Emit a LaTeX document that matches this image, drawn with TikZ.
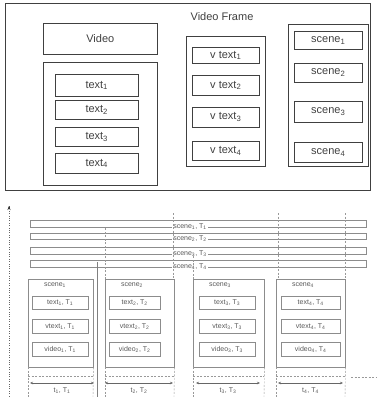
\documentclass[tikz,border=0pt]{standalone}
\usepackage{fontspec}
\setmainfont{Liberation Sans}
\usetikzlibrary{arrows.meta}
\tikzset{
  upper/.style={draw=black!75, line width=0.55pt, inner sep=0pt,
    font=\fontsize{11}{13}\selectfont, text=black!75},
  lower/.style={draw=black!45, line width=0.45pt, inner sep=0pt,
    font=\fontsize{7}{8}\selectfont, text=black!65},
  corners/.style args={#1/#2/#3/#4}{anchor=north west, at={(#1,#2)},
    minimum width={(#3-#1)*1pt}, minimum height={(#4-#2)*1pt}},
  guide/.style={draw=black!40, line width=0.4pt, dash pattern=on 2pt off 1.5pt},
  rail/.style={draw=black!50, line width=0.45pt},
  dur/.style={draw=black!60, line width=0.45pt, {Stealth[length=3pt,width=2.5pt]}-{Stealth[length=3pt,width=2.5pt]}},
}
\begin{document}
\begin{tikzpicture}[x=1pt, y=-1pt]
\useasboundingbox (0,0) rectangle (376,397);

% ---------- video frame ----------
\node[upper, corners=5/3/370/190] (frame) {};
\node[upper, draw=none] (title) at (222,17) {Video Frame};
\node[upper, corners=43/23/157/54] (video) {Video};

\node[upper, corners=43/62/157/185] (tgrp) {};
\node[upper, corners=55/74/138/96]   (text1) {text\textsubscript{1}};
\node[upper, corners=55/100/138/119] (text2) {text\textsubscript{2}};
\node[upper, corners=55/127/138/146] (text3) {text\textsubscript{3}};
\node[upper, corners=55/153/138/173] (text4) {text\textsubscript{4}};

\node[upper, corners=186/36/265/166] (vgrp) {};
\node[upper, corners=192/47/259/63]   (vtext1) {v text\textsubscript{1}};
\node[upper, corners=192/75/259/95]   (vtext2) {v text\textsubscript{2}};
\node[upper, corners=192/107/259/127] (vtext3) {v text\textsubscript{3}};
\node[upper, corners=192/141/259/160] (vtext4) {v text\textsubscript{4}};

\node[upper, corners=288/24/368/166] (sgrp) {};
\node[upper, corners=294/31/362/49]   (scene1) {scene\textsubscript{1}};
\node[upper, corners=294/63/362/82]   (scene2) {scene\textsubscript{2}};
\node[upper, corners=294/101/362/122] (scene3) {scene\textsubscript{3}};
\node[upper, corners=294/142/362/162] (scene4) {scene\textsubscript{4}};

% ---------- timeline ----------
\coordinate (axtop) at (9,206);
\coordinate (axbot) at (9,396);
\draw[draw=black!60, line width=0.4pt, dotted] (axbot) -- (axtop);
\draw[draw=black!80, -{Stealth[length=4pt,width=3pt]}] ([yshift=-1pt]axtop) -- (axtop);

% scene rows spanning the whole time axis
\foreach \i/\t/\b in {1/220/227, 2/233/239, 3/247/254, 4/260/267} {
  \node[lower, corners=30/\t/366/\b] (row\i) {};
  \node[lower, draw=none, fill=white, inner sep=0.8pt] (rowlab\i) at (190,\b)
    {scene\textsubscript{\i}, T\textsubscript{\i}};
}

% segment columns
\foreach \i/\l/\r/\il/\ir in {1/28/93/32/88, 2/105/174/109/160, 3/193/264/199/255, 4/276/345/281/340} {
  \node[lower, corners=\l/279/\r/367] (col\i) {};
  \node[lower, draw=none] (clab\i) at (\l+27,285) {scene\textsubscript{\i}};
  \node[lower, corners=\il/296/\ir/309] (ctext\i) {text\textsubscript{\i}, T\textsubscript{\i}};
  \node[lower, corners=\il/319/\ir/333] (cvtext\i) {vtext\textsubscript{\i}, T\textsubscript{\i}};
  \node[lower, corners=\il/342/\ir/356] (cvideo\i) {video\textsubscript{\i}, T\textsubscript{\i}};
  \coordinate (cbl\i) at (\l,397);
  \coordinate (cbr\i) at (\r,397);
  \draw[guide] (col\i.south west) -- (cbl\i);
  \draw[guide] (col\i.south east) -- (cbr\i);
  \coordinate (hl\i) at (\l,376);
  \coordinate (hr\i) at (\r,376);
  \draw[guide] (hl\i) -- (hr\i);
}

% segment boundaries reaching up to the scene rows
\draw[guide] (col2.north west) -- (row1.south -| col2.north west);
\draw[guide] (col3.north west) -- (row3.south -| col3.north west);
\coordinate (b1) at (173,213);
\coordinate (b2) at (278,213);
\coordinate (b3) at (345,213);
\draw[guide] (b1) -- (b1 |- col2.north);
\draw[guide] (b2) -- (b2 |- col4.north);
\draw[guide] (b3) -- (b3 |- col4.north);
\coordinate (s1t) at (97,262);
\coordinate (s1b) at (97,397);
\draw[rail] (s1t) -- (s1b);
\coordinate (tailL) at (351,377);
\coordinate (tailR) at (376,377);
\draw[guide] (tailL) -- (tailR);

% durations
\foreach \i/\a/\b in {1/30/94, 2/105/173, 3/196/260, 4/278/343} {
  \coordinate (da\i) at (\a,383);
  \coordinate (db\i) at (\b,383);
  \draw[dur] (da\i) -- (db\i);
  \node[lower, draw=none] (dlab\i) at ({(\a+\b)/2},391) {t\textsubscript{\i}, T\textsubscript{\i}};
}
\end{tikzpicture}
\end{document}
